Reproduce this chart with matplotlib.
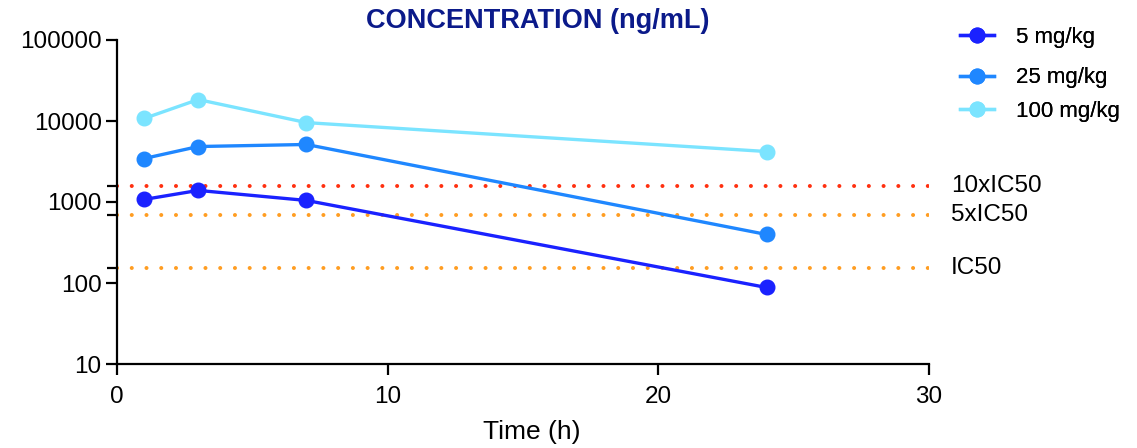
import matplotlib
matplotlib.use("Agg")
import matplotlib.pyplot as plt
import matplotlib.transforms as mtransforms

plt.rcParams['font.family'] = ['Liberation Sans', 'DejaVu Sans']

time_h = [1, 3, 7, 24]
series_labels = ["5 mg/kg", "25 mg/kg", "100 mg/kg"]
conc_5 = [1075, 1390, 1045, 88]
conc_25 = [3440, 4840, 5130, 397]
conc_100 = [10740, 18400, 9550, 4200]
series_values = [conc_5, conc_25, conc_100]
series_colors = ["#1a22ff", "#1f87ff", "#7be4ff"]

ref_labels = ["10xIC50", "5xIC50", "IC50"]
ref_values = [1570, 685, 154]
ref_colors = ["#ff3010", "#ff9d22", "#ff9d22"]

x_ticks = [0, 10, 20, 30]
y_ticks = [10, 100, 1000, 10000, 100000]
y_tick_labels = ["10", "100", "1000", "10000", "100000"]

fig = plt.figure(figsize=(11.37, 4.48), dpi=100)
ax = fig.add_axes([117/1137, 1-364/448, (929-117)/1137, (364-40)/448])

for lab, val, col in zip(ref_labels, ref_values, ref_colors):
    ax.axhline(val, color=col, lw=2.9, linestyle=(0, (0.01, 3.65)),
               dash_capstyle='round', zorder=1)
    ax.text(1.027, val, lab, transform=mtransforms.blended_transform_factory(ax.transAxes, ax.transData),
            ha='left', va='center', fontsize=17.5, clip_on=False)

handles = []
for lab, vals, col in zip(series_labels, series_values, series_colors):
    h, = ax.plot(time_h, vals, color=col, lw=2.4, marker='o', markersize=10.5,
                 label=lab, zorder=3, clip_on=False)
    handles.append(h)

ax.set_yscale('log')
ax.set_ylim(10, 100000)
ax.set_xlim(0, 30)
ax.set_xticks(x_ticks)
ax.set_xticklabels([str(t) for t in x_ticks])
ax.set_yticks(y_ticks)
ax.set_yticklabels(y_tick_labels)
ax.set_yticks(ref_values, minor=True)
ax.yaxis.set_minor_formatter(matplotlib.ticker.NullFormatter())
ax.xaxis.set_minor_locator(matplotlib.ticker.NullLocator())

for s in ['top', 'right']:
    ax.spines[s].set_visible(False)
for s in ['left', 'bottom']:
    ax.spines[s].set_linewidth(1.6)
ax.tick_params(axis='both', which='major', direction='out', length=8, width=1.6,
               labelsize=17.5, colors='black', pad=3)
ax.tick_params(axis='x', which='major', pad=8)
ax.tick_params(axis='y', which='minor', direction='out', length=7, width=1.6)

ax.set_xlabel("Time (h)", fontsize=19, labelpad=12)
ax.xaxis.set_label_coords((532-117)/812, -(432-364)/324, transform=ax.transAxes)
ax.xaxis.label.set_va('center')
ax.text((538-117)/812, 1+(40-21)/324, "CONCENTRATION (ng/mL)", transform=ax.transAxes,
        ha='center', va='center', fontsize=19.5, fontweight='bold', color='#0b1a8a')

legend_rows_px = [37, 78, 111]
for h, lab, ypx in zip(handles, series_labels, legend_rows_px):
    leg = fig.legend(handles=[h], labels=[lab], loc='center left',
                     bbox_to_anchor=(953/1137, 1-ypx/448), frameon=False, fontsize=16,
                     handlelength=1.55, handletextpad=1.0, borderaxespad=0,
                     borderpad=0.3)
    fig.add_artist(leg)

fig.savefig("out.png", dpi=100)
